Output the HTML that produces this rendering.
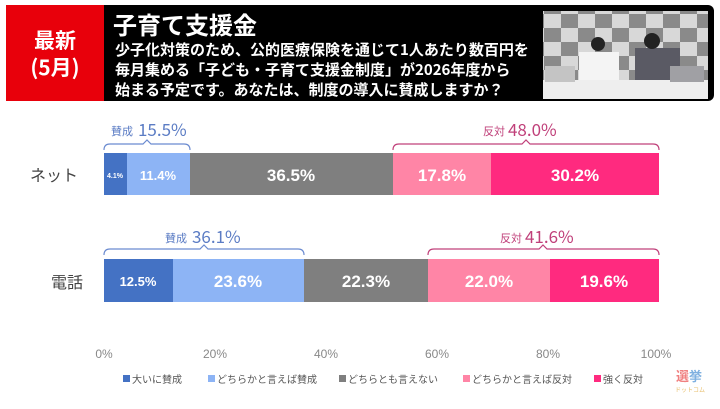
<!DOCTYPE html>
<html><head><meta charset="utf-8"><style>
body{margin:0;background:#fff;width:720px;height:404px;overflow:hidden;font-family:"Liberation Sans","Noto Sans CJK JP",sans-serif}
</style></head><body>
<svg width="720" height="404" xmlns="http://www.w3.org/2000/svg" font-family="Liberation Sans, Noto Sans CJK JP, sans-serif">
<defs><pattern id="ck" width="34" height="28" patternUnits="userSpaceOnUse">
<rect width="34" height="28" fill="#d8d8d8"/><rect width="17" height="14" fill="#8a8a8a"/><rect x="17" y="14" width="17" height="14" fill="#8a8a8a"/></pattern></defs>
<rect x="0" y="0" width="720" height="404" fill="#fff"/>
<rect x="6" y="5" width="708" height="96" rx="6" fill="#000"/>
<rect x="6" y="5" width="98" height="96" fill="#e8000b"/>
<text x="55" y="48" fill="#fff" font-size="21" font-weight="bold" text-anchor="middle" font-family="Noto Sans CJK JP, sans-serif">最新</text>
<text x="55" y="75" fill="#fff" font-size="21" font-weight="bold" text-anchor="middle" font-family="Noto Sans CJK JP, sans-serif">(5月)</text>
<text x="113" y="34" fill="#fff" font-size="24" font-weight="bold" font-family="Noto Sans CJK JP, sans-serif">子育て支援金</text>
<text x="115" y="55" fill="#fff" font-size="15" font-weight="bold" font-family="Noto Sans CJK JP, sans-serif">少子化対策のため、公的医療保険を通じて1人あたり数百円を</text>
<text x="115" y="75" fill="#fff" font-size="15" font-weight="bold" font-family="Noto Sans CJK JP, sans-serif">毎月集める「子ども・子育て支援金制度」が2026年度から</text>
<text x="115" y="95" fill="#fff" font-size="15" font-weight="bold" font-family="Noto Sans CJK JP, sans-serif">始まる予定です。あなたは、制度の導入に賛成しますか？</text>
<rect x="543" y="11" width="165" height="88" fill="url(#ck)"/>
<rect x="543" y="80" width="165" height="19" fill="#eee"/>
<rect x="579" y="52" width="40" height="28" fill="#f4f4f4"/>
<rect x="635" y="48" width="45" height="32" fill="#5a5a64"/>
<circle cx="598" cy="44" r="7" fill="#222"/><circle cx="652" cy="41" r="8" fill="#222"/>
<rect x="545" y="66" width="30" height="16" fill="#c4c4c4"/><rect x="670" y="66" width="34" height="16" fill="#a0a0a4"/>

<g font-size="16" fill="#444" font-family="Noto Sans CJK JP, sans-serif">
<text x="30" y="181">ネット</text><text x="51" y="288">電話</text></g>

<g>
<rect x="104" y="153" width="23" height="42" fill="#4472c4"/>
<rect x="127" y="153" width="63" height="42" fill="#8db4f5"/>
<rect x="190" y="153" width="203" height="42" fill="#7f7f7f"/>
<rect x="393" y="153" width="98" height="42" fill="#ff85a6"/>
<rect x="491" y="153" width="168" height="42" fill="#ff2a7f"/>
<rect x="104" y="259" width="69" height="43" fill="#4472c4"/>
<rect x="173" y="259" width="131" height="43" fill="#8db4f5"/>
<rect x="304" y="259" width="124" height="43" fill="#7f7f7f"/>
<rect x="428" y="259" width="122" height="43" fill="#ff85a6"/>
<rect x="550" y="259" width="109" height="43" fill="#ff2a7f"/>
</g>
<g fill="#fff" font-weight="bold" text-anchor="middle">
<text x="115" y="178" font-size="7">4.1%</text>
<text x="158" y="180" font-size="13">11.4%</text>
<text x="291" y="181" font-size="17">36.5%</text>
<text x="442" y="181" font-size="17">17.8%</text>
<text x="575" y="181" font-size="17">30.2%</text>
<text x="138" y="286" font-size="13">12.5%</text>
<text x="238" y="287" font-size="17">23.6%</text>
<text x="366" y="287" font-size="17">22.3%</text>
<text x="489" y="287" font-size="17">22.0%</text>
<text x="604" y="287" font-size="17">19.6%</text>
</g>
<g fill="none" stroke-width="1.2">
<path d="M104 150 Q104 144 110 144 H143 L147 140 L151 144 H184 Q190 144 190 150" stroke="#6b8bd0"/>
<path d="M393 150 Q393 144 399 144 H522 L526 140 L530 144 H653 Q659 144 659 150" stroke="#c0407a"/>
<path d="M104 255 Q104 249 110 249 H200 L204 245 L208 249 H298 Q304 249 304 255" stroke="#6b8bd0"/>
<path d="M428 255 Q428 249 434 249 H539 L543 245 L547 249 H653 Q659 249 659 255" stroke="#c0407a"/>
</g>
<g font-family="Noto Sans CJK JP, sans-serif">
<text x="111" y="135" fill="#5b7cc4" font-size="11">賛成</text>
<text x="138" y="136" fill="#5b7cc4" font-size="17">15.5%</text>
<text x="483" y="135" fill="#c0407a" font-size="11">反対</text>
<text x="508" y="136" fill="#c0407a" font-size="17">48.0%</text>
<text x="165" y="242" fill="#5b7cc4" font-size="11">賛成</text>
<text x="192" y="243" fill="#5b7cc4" font-size="17">36.1%</text>
<text x="500" y="242" fill="#c0407a" font-size="11">反対</text>
<text x="525" y="243" fill="#c0407a" font-size="17">41.6%</text>
</g>
<g fill="#888" font-size="12" text-anchor="middle">
<text x="104" y="358">0%</text><text x="215" y="358">20%</text><text x="326" y="358">40%</text>
<text x="437" y="358">60%</text><text x="548" y="358">80%</text><text x="656" y="358">100%</text>
</g>
<g font-size="10" fill="#555" font-family="Noto Sans CJK JP, sans-serif">
<rect x="123" y="375" width="7" height="7" fill="#4472c4"/><text x="132" y="383">大いに賛成</text>
<rect x="208" y="375" width="7" height="7" fill="#8db4f5"/><text x="217" y="383">どちらかと言えば賛成</text>
<rect x="339" y="375" width="7" height="7" fill="#7f7f7f"/><text x="348" y="383">どちらとも言えない</text>
<rect x="463" y="375" width="7" height="7" fill="#ff85a6"/><text x="472" y="383">どちらかと言えば反対</text>
<rect x="594" y="375" width="7" height="7" fill="#ff2a7f"/><text x="603" y="383">強く反対</text>
<text x="676" y="381" font-size="13" fill="#f08080" font-weight="bold">選</text>
<text x="689" y="381" font-size="13" fill="#7fb0e0" font-weight="bold">挙</text>
<text x="675" y="392" font-size="6" fill="#e8c070">ドットコム</text>
</g>
</svg>
</body></html>
